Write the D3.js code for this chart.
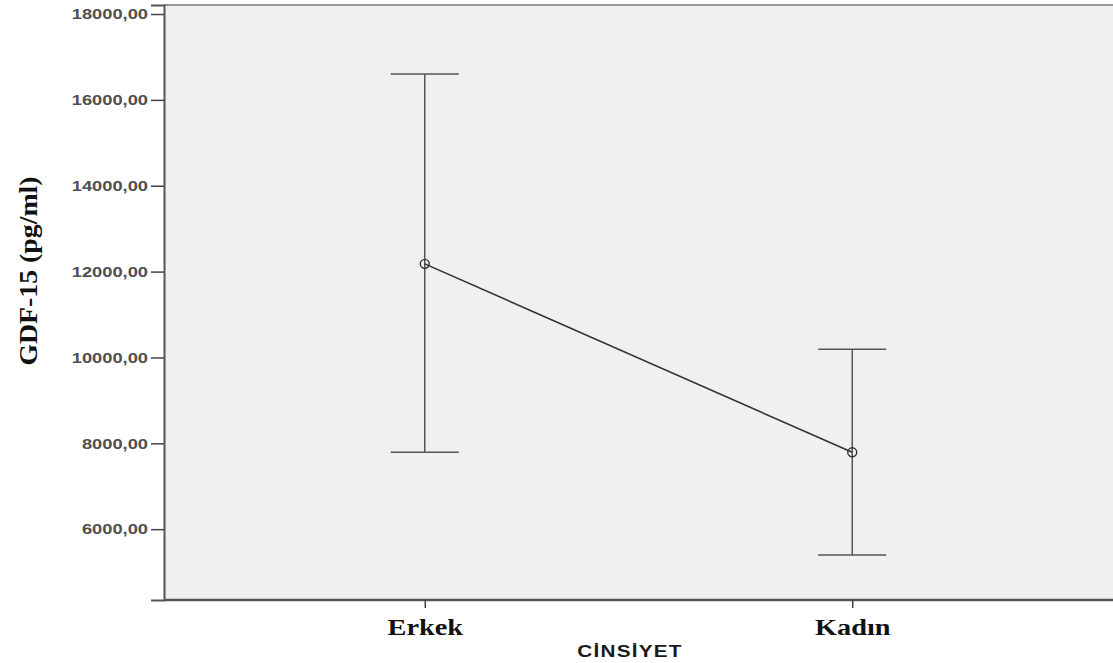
<!DOCTYPE html>
<html>
<head>
<meta charset="utf-8">
<script src="https://cdn.jsdelivr.net/npm/d3@7"></script>
<style>
  body { margin: 0; background: #fff; }
  svg { display: block; }
</style>
</head>
<body>
<script>
const width = 1113
const height = 663

// data
const categories = ["Erkek", "Kadın"]
const means = [12180, 7790]
const upper = [16600, 10190]
const lower = [7790, 5400]
const yTicks = [6000, 8000, 10000, 12000, 14000, 16000, 18000]

const margin = {top: 5, right: 0, bottom: 63, left: 164}

const svg = d3.select("body").append("svg")
    .attr("width", width)
    .attr("height", height)

const x = d3.scalePoint()
    .domain(categories)
    .range([margin.left, width - margin.right])
    .padding(0.61)

const y = d3.scaleLinear()
    .domain([4350, 18210])
    .range([height - margin.bottom, margin.top])

// plot background
svg.append("rect")
    .attr("x", margin.left)
    .attr("y", margin.top)
    .attr("width", width - margin.left - margin.right)
    .attr("height", height - margin.top - margin.bottom)
    .attr("fill", "#f0f0f0")

// top frame line
svg.append("line")
    .attr("x1", margin.left).attr("x2", width)
    .attr("y1", margin.top).attr("y2", margin.top)
    .attr("stroke", "#777").attr("stroke-width", 1.5)

const fmt = d => d3.format(".2f")(d).replace(".", ",")

const yAxis = svg.append("g")
    .attr("transform", `translate(${margin.left},0)`)
    .call(d3.axisLeft(y).tickValues(yTicks).tickFormat(fmt).tickSize(13).tickPadding(3))
yAxis.select(".domain").attr("stroke", "#555").attr("stroke-width", 2)
yAxis.selectAll(".tick line").attr("stroke", "#444").attr("stroke-width", 1.5)
yAxis.selectAll("text")
    .attr("x", -16 / 1.22)
    .attr("transform", "scale(1.22,1)")
    .attr("font-family", "Liberation Sans, Arial, sans-serif")
    .attr("font-size", 15)
    .attr("font-weight", "bold")
    .attr("fill", "#505050")

const xAxis = svg.append("g")
    .attr("transform", `translate(0,${height - margin.bottom})`)
    .call(d3.axisBottom(x).tickSize(8).tickPadding(10))
xAxis.select(".domain").attr("stroke", "#555").attr("stroke-width", 2.5)
    .attr("d", `M${margin.left},0H${width}`)
xAxis.selectAll(".tick line").attr("stroke", "#444").attr("stroke-width", 1.5)
xAxis.selectAll("text")
    .attr("transform", "scale(1.18,1)")
    .attr("font-family", "Liberation Serif, Times New Roman, serif")
    .attr("font-size", 24)
    .attr("font-weight", "bold")
    .attr("fill", "#111")

// error bars
const bars = svg.append("g")
    .selectAll("g")
    .data(categories)
    .enter()
    .append("g")
    .attr("stroke", "#555")
    .attr("stroke-width", 1.5)

bars.append("line")
    .attr("x1", d => x(d)).attr("x2", d => x(d))
    .attr("y1", (d, i) => y(upper[i])).attr("y2", (d, i) => y(lower[i]))
bars.append("line")
    .attr("x1", d => x(d) - 34).attr("x2", d => x(d) + 34)
    .attr("y1", (d, i) => y(upper[i])).attr("y2", (d, i) => y(upper[i]))
bars.append("line")
    .attr("x1", d => x(d) - 34).attr("x2", d => x(d) + 34)
    .attr("y1", (d, i) => y(lower[i])).attr("y2", (d, i) => y(lower[i]))

// mean line
const line = d3.line()
    .x((d, i) => x(categories[i]))
    .y(d => y(d))

svg.append("path")
    .datum(means)
    .attr("d", line)
    .attr("fill", "none")
    .attr("stroke", "#333")
    .attr("stroke-width", 1.6)

svg.append("g")
    .selectAll("circle")
    .data(means)
    .enter()
    .append("circle")
    .attr("cx", (d, i) => x(categories[i]))
    .attr("cy", d => y(d))
    .attr("r", 4.5)
    .attr("fill", "none")
    .attr("stroke", "#333")
    .attr("stroke-width", 1.4)

// axis titles
svg.append("text")
    .attr("transform", "translate(37,271) rotate(-90) scale(1.07,1)")
    .attr("text-anchor", "middle")
    .attr("font-family", "Liberation Serif, Times New Roman, serif")
    .attr("font-size", 26)
    .attr("font-weight", "bold")
    .attr("fill", "#111")
    .text("GDF-15 (pg/ml)")

svg.append("text")
    .attr("transform", "translate(630,657) scale(1.22,1)")
    .attr("text-anchor", "middle")
    .attr("font-family", "Liberation Sans, Arial, sans-serif")
    .attr("font-size", 17)
    .attr("font-weight", "bold")
    .attr("letter-spacing", 1)
    .attr("fill", "#1a1a1a")
    .text("CİNSİYET")
</script>
</body>
</html>
